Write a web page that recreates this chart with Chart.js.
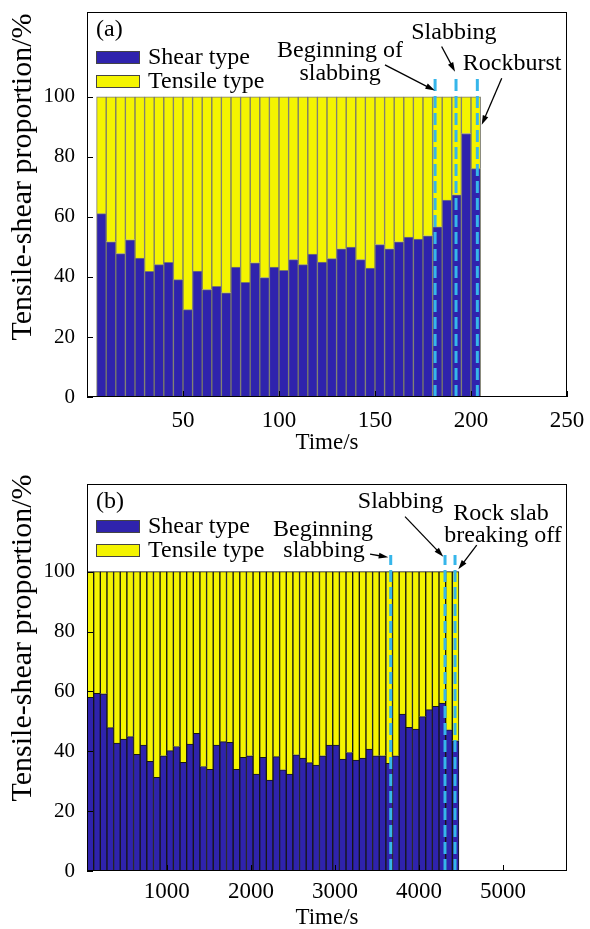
<!DOCTYPE html>
<html>
<head>
<meta charset="utf-8">
<script src="https://cdn.jsdelivr.net/npm/chart.js@4.4.0/dist/chart.umd.min.js"></script>
<style>
  html, body { margin: 0; padding: 0; background: #fff; }
  canvas { display: block; }
</style>
</head>
<body>
<canvas id="chartA" width="590" height="464"></canvas>
<canvas id="chartB" width="590" height="465"></canvas>
<script>
const seriesLabels = ["Shear type", "Tensile type"];
const yTicks = [0, 20, 40, 60, 80, 100];

// (a) 5 s windows, centre times
const timeA = [7.5, 12.5, 17.5, 22.5, 27.5, 32.5, 37.5, 42.5, 47.5, 52.5,
  57.5, 62.5, 67.5, 72.5, 77.5, 82.5, 87.5, 92.5, 97.5, 102.5,
  107.5, 112.5, 117.5, 122.5, 127.5, 132.5, 137.5, 142.5, 147.5, 152.5,
  157.5, 162.5, 167.5, 172.5, 177.5, 182.5, 187.5, 192.5, 197.5, 202.5];
const shearA = [61.1, 51.7, 47.8, 52.4, 46.3, 41.9, 44.1, 44.9, 39.1, 29.1,
  42.0, 35.8, 36.9, 34.7, 43.3, 38.2, 44.7, 39.8, 43.3, 42.2,
  45.8, 44.1, 47.6, 45.0, 46.1, 49.4, 50.0, 45.8, 43.0, 50.8,
  49.4, 51.7, 53.3, 52.6, 53.7, 56.7, 65.6, 67.4, 87.8, 76.1];
const tensileA = [38.9, 48.3, 52.2, 47.6, 53.7, 58.1, 55.9, 55.1, 60.9, 70.9,
  58.0, 64.2, 63.1, 65.3, 56.7, 61.8, 55.3, 60.2, 56.7, 57.8,
  54.2, 55.9, 52.4, 55.0, 53.9, 50.6, 50.0, 54.2, 57.0, 49.2,
  50.6, 48.3, 46.7, 47.4, 46.3, 43.3, 34.4, 32.6, 12.2, 23.9];
const eventsA = [181.3, 192.2, 203.3]; // beginning of slabbing, slabbing, rockburst
const xTicksA = [50, 100, 150, 200, 250];

// (b) centre times of each window
const timeB = [90, 169, 248, 327, 406, 485, 564, 643, 722, 801,
  880, 959, 1038, 1117, 1196, 1275, 1354, 1433, 1512, 1591,
  1670, 1749, 1828, 1907, 1986, 2065, 2144, 2223, 2302, 2381,
  2460, 2539, 2618, 2697, 2776, 2855, 2934, 3013, 3092, 3171,
  3250, 3329, 3408, 3487, 3566, 3645, 3724, 3803, 3882, 3961,
  4040, 4119, 4198, 4277, 4356, 4435];
const shearB = [58.0, 59.4, 59.2, 47.9, 42.7, 44.1, 44.9, 39.0, 42.1, 36.6,
  31.3, 38.5, 40.2, 41.6, 36.3, 42.4, 46.0, 34.9, 34.0, 42.1,
  43.2, 43.0, 34.0, 38.0, 38.5, 32.4, 38.0, 30.4, 38.2, 33.8,
  32.4, 38.8, 37.7, 36.2, 35.4, 38.5, 42.1, 42.1, 37.4, 39.6,
  37.1, 37.7, 40.7, 38.5, 38.5, 36.0, 38.5, 52.4, 48.0, 47.4,
  51.6, 53.9, 55.0, 56.1, 47.2, 43.5];
const tensileB = [42.0, 40.6, 40.8, 52.1, 57.3, 55.9, 55.1, 61.0, 57.9, 63.4,
  68.7, 61.5, 59.8, 58.4, 63.7, 57.6, 54.0, 65.1, 66.0, 57.9,
  56.8, 57.0, 66.0, 62.0, 61.5, 67.6, 62.0, 69.6, 61.8, 66.2,
  67.6, 61.2, 62.3, 63.8, 64.6, 61.5, 57.9, 57.9, 62.6, 60.4,
  62.9, 62.3, 59.3, 61.5, 61.5, 64.0, 61.5, 47.6, 52.0, 52.6,
  48.4, 46.1, 45.0, 43.9, 52.8, 56.5];
const eventsB = [3663, 4309, 4428]; // beginning slabbing, slabbing, slab breaking off
const xTicksB = [1000, 2000, 3000, 4000, 5000];

const SHEAR = "#2f23ad";
const TENSILE = "#f4f400";
const MARKER = "#36b6ea";
const SERIF = "'Liberation Serif', 'Times New Roman', serif";

// frame, inward ticks, y title, legend box and the event notes
const panelDecor = {
  id: "panelDecor",
  afterDraw(chart, args, o) {
    const { ctx, chartArea: a } = chart;
    const xs = chart.scales.x, ys = chart.scales.y;
    ctx.save();
    ctx.strokeStyle = "#000";
    ctx.lineWidth = 1;
    ctx.beginPath();
    ys.ticks.forEach((t) => {
      const py = Math.round(ys.getPixelForValue(t.value)) + 0.5;
      ctx.moveTo(a.left, py);
      ctx.lineTo(a.left + 6, py);
    });
    xs.ticks.forEach((t) => {
      const px = Math.round(xs.getPixelForValue(t.value)) + 0.5;
      ctx.moveTo(px, a.bottom);
      ctx.lineTo(px, a.bottom - 6);
    });
    ctx.stroke();
    ctx.strokeRect(a.left + 0.5, a.top + 0.5, a.width - 1, a.height - 1);

    ctx.fillStyle = "#000";
    ctx.textBaseline = "middle";

    ctx.save();
    ctx.font = "30px " + SERIF;
    ctx.textAlign = "center";
    ctx.translate(o.yTitle[0], o.yTitle[1]);
    ctx.rotate(-Math.PI / 2);
    ctx.fillText("Tensile-shear proportion/%", 0, 0);
    ctx.restore();

    ctx.font = "24px " + SERIF;
    ctx.textAlign = "left";
    ctx.fillText(o.letter, a.left + 9, a.top + 18);

    const ds = chart.data.datasets;
    [0, 1].forEach((i) => {
      const top = a.top + o.legendTop + i * 24;
      ctx.fillStyle = ds[i].backgroundColor;
      ctx.fillRect(a.left + 9, top, 44, 13);
      ctx.strokeStyle = "#444";
      ctx.strokeRect(a.left + 9.5, top + 0.5, 43, 12);
      ctx.fillStyle = "#000";
      ctx.fillText(ds[i].label, a.left + 61, top + 7);
    });

    ctx.textAlign = "center";
    o.notes.forEach(([text, t, v]) => {
      ctx.fillText(text, xs.getPixelForValue(t), ys.getPixelForValue(v));
    });

    ctx.strokeStyle = "#000";
    ctx.lineWidth = 1.3;
    o.arrows.forEach(([t0, v0, t1, v1]) => {
      const x0 = xs.getPixelForValue(t0), y0 = ys.getPixelForValue(v0);
      const x1 = xs.getPixelForValue(t1), y1 = ys.getPixelForValue(v1);
      const ang = Math.atan2(y1 - y0, x1 - x0);
      ctx.beginPath();
      ctx.moveTo(x0, y0);
      ctx.lineTo(x1 - 6 * Math.cos(ang), y1 - 6 * Math.sin(ang));
      ctx.stroke();
      ctx.beginPath();
      ctx.moveTo(x1, y1);
      ctx.lineTo(x1 - 10 * Math.cos(ang - 0.3), y1 - 10 * Math.sin(ang - 0.3));
      ctx.lineTo(x1 - 10 * Math.cos(ang + 0.3), y1 - 10 * Math.sin(ang + 0.3));
      ctx.closePath();
      ctx.fill();
    });
    ctx.restore();
  },
};

function makeChart(id, cfg) {
  const datasets = [
    {
      label: seriesLabels[0],
      data: cfg.time.map((t, i) => ({ x: t, y: cfg.shear[i] })),
      backgroundColor: SHEAR,
      borderColor: cfg.edge,
      borderWidth: 1,
      order: 2,
    },
    {
      label: seriesLabels[1],
      data: cfg.time.map((t, i) => ({ x: t, y: cfg.tensile[i] })),
      backgroundColor: TENSILE,
      borderColor: cfg.edge,
      borderWidth: 1,
      order: 2,
    },
  ];
  cfg.events.forEach((t, k) => {
    datasets.push({
      type: "line",
      label: "event" + k,
      stack: "event" + k,
      data: [{ x: t, y: 0 }, { x: t, y: cfg.eventTop }],
      borderColor: MARKER,
      borderWidth: 3,
      borderDash: [12, 5],
      pointRadius: 0,
      order: 1,
    });
  });

  return new Chart(document.getElementById(id), {
    type: "bar",
    data: { datasets },
    options: {
      responsive: false,
      animation: false,
      devicePixelRatio: 1,
      layout: { padding: { left: 0, top: cfg.top, right: 23, bottom: 0 } },
      datasets: {
        bar: { barPercentage: 1, categoryPercentage: 1, borderSkipped: "start" },
      },
      scales: {
        x: {
          type: "linear",
          stacked: true,
          offset: false,
          min: cfg.xMin,
          max: cfg.xMax,
          grid: { display: false, drawTicks: false },
          border: { display: false },
          afterBuildTicks: (s) => { s.ticks = cfg.xTicks.map((v) => ({ value: v })); },
          afterFit: (s) => {
            s.height = cfg.xHeight;
            s.paddingLeft = 0;
            s.paddingRight = 0;
          },
          ticks: {
            color: "#000",
            font: { family: SERIF, size: 23 },
            padding: cfg.xPad,
            maxRotation: 0,
            autoSkip: false,
            callback: (v) => String(v),
          },
          title: {
            display: true,
            text: "Time/s",
            color: "#000",
            font: { family: SERIF, size: 23 },
            padding: { top: 0, bottom: cfg.titlePad },
          },
        },
        y: {
          stacked: true,
          min: 0,
          max: cfg.yMax,
          grid: { display: false, drawTicks: false },
          border: { display: false },
          afterBuildTicks: (s) => { s.ticks = yTicks.map((v) => ({ value: v })); },
          afterFit: (s) => {
            s.width = 87;
            s.paddingTop = 0;
            s.paddingBottom = 0;
          },
          ticks: {
            color: "#000",
            font: { family: SERIF, size: 21 },
            padding: 12,
            callback: (v) => String(v),
          },
        },
      },
      plugins: {
        legend: { display: false },
        tooltip: { enabled: false },
        panelDecor: cfg.decor,
      },
    },
    plugins: [panelDecor],
  });
}

makeChart("chartA", {
  time: timeA, shear: shearA, tensile: tensileA, events: eventsA, xTicks: xTicksA,
  xMin: 0, xMax: 250, yMax: 128.3, top: 12, xHeight: 67, xPad: 10, titlePad: 7,
  edge: "#7a7a6a", eventTop: 106.2,
  decor: {
    letter: "(a)",
    legendTop: 39,
    yTitle: [23, 177],
    notes: [
      ["Beginning of", 131.8, 115.5],
      ["slabbing", 131.8, 107.9],
      ["Slabbing", 191.1, 121.3],
      ["Rockburst", 221.4, 111.1],
    ],
    arrows: [
      [155.2, 110.7, 181.2, 102.1],
      [184.7, 116.8, 191.7, 108.4],
      [216.0, 106.2, 205.6, 90.7],
    ],
  },
});

makeChart("chartB", {
  time: timeB, shear: shearB, tensile: tensileB, events: eventsB, xTicks: xTicksB,
  xMin: 50, xMax: 5760, yMax: 129.3, top: 20, xHeight: 58, xPad: 7, titlePad: -3,
  edge: "#161616", eventTop: 105.6,
  decor: {
    letter: "(b)",
    legendTop: 36,
    yTitle: [23, 174],
    notes: [
      ["Beginning", 2857, 113.9],
      ["slabbing", 2869, 107.1],
      ["Slabbing", 3779, 123.5],
      ["Rock slab", 4975, 119.3],
      ["breaking off", 4999, 111.9],
    ],
    arrows: [
      [3417, 105.9, 3634, 104.8],
      [3833, 118.4, 4289, 105.0],
      [4686, 108.9, 4467, 100.8],
    ],
  },
});
</script>
</body>
</html>
